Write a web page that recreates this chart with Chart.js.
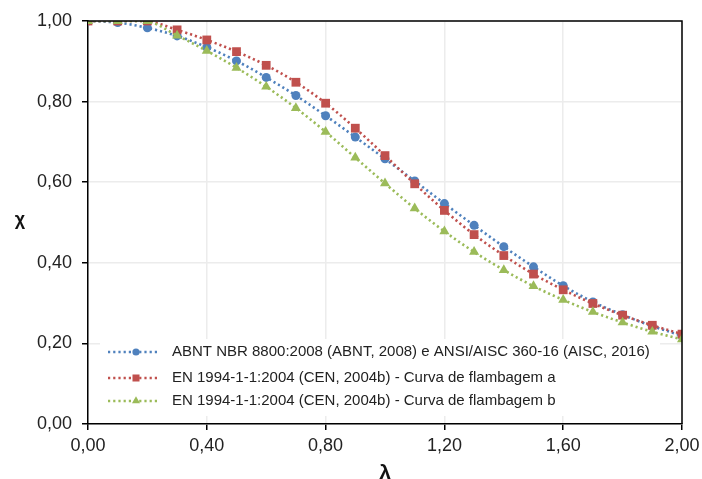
<!DOCTYPE html>
<html>
<head>
<meta charset="utf-8">
<script src="https://cdn.jsdelivr.net/npm/chart.js@4.4.1/dist/chart.umd.min.js"></script>
<style>
html,body{margin:0;padding:0;background:#fff;}
#wrap{width:702px;height:479px;position:relative;}
</style>
</head>
<body>
<div id="wrap"><canvas id="c" width="702" height="479"></canvas></div>
<script>
const lambdaValues = [0.0,0.1,0.2,0.3,0.4,0.5,0.6,0.7,0.8,0.9,1.0,1.1,1.2,1.3,1.4,1.5,1.6,1.7,1.8,1.9,2.0];
const abntValues   = [1.000,0.996,0.983,0.963,0.935,0.901,0.860,0.815,0.765,0.712,0.658,0.603,0.547,0.493,0.440,0.390,0.343,0.303,0.271,0.243,0.219];
const enCurveA     = [1.000,1.000,1.000,0.978,0.953,0.924,0.890,0.848,0.796,0.734,0.666,0.596,0.530,0.470,0.418,0.372,0.333,0.299,0.270,0.245,0.223];
const enCurveB     = [1.000,1.000,1.000,0.964,0.926,0.884,0.837,0.784,0.725,0.661,0.597,0.535,0.478,0.427,0.382,0.342,0.308,0.278,0.252,0.229,0.210];
const seriesNames  = [
  "ABNT NBR 8800:2008 (ABNT, 2008) e ANSI/AISC 360-16 (AISC, 2016)",
  "EN 1994-1-1:2004 (CEN, 2004b) - Curva de flambagem a",
  "EN 1994-1-1:2004 (CEN, 2004b) - Curva de flambagem b"
];
const xTitle = "λ";
const yTitle = "χ";

const BLUE = "#4F81BD", RED = "#C0504D", GREEN = "#9BBB59";
const DASH = [2.2, 3.0];

function pts(ys){ return lambdaValues.map((x,i)=>({x:x, y:ys[i]})); }
function fmt(v){ return Number(v).toFixed(2).replace('.', ','); }

const datasets = [
  {label: seriesNames[0], data: pts(abntValues), borderColor: BLUE, backgroundColor: BLUE,
   pointStyle: 'circle', pointRadius: 4.5, order: 2},
  {label: seriesNames[1], data: pts(enCurveA), borderColor: RED, backgroundColor: RED,
   pointStyle: 'rect', pointRadius: 6.2, order: 1},
  {label: seriesNames[2], data: pts(enCurveB), borderColor: GREEN, backgroundColor: GREEN,
   pointStyle: 'triangle', pointRadius: 5.8, order: 0}
].map(d => Object.assign({
  borderWidth: 2.6, borderDash: DASH, borderCapStyle: 'butt', tension: 0.35,
  pointBorderWidth: 0, pointHoverRadius: 0, fill: false
}, d));

const extrasPlugin = {
  id: 'extras',
  afterDraw(chart){
    const ctx = chart.ctx, a = chart.chartArea;
    ctx.save();
    // frame (top & right)
    ctx.strokeStyle = '#000'; ctx.lineWidth = 1.5;
    ctx.beginPath();
    ctx.moveTo(a.left, a.top); ctx.lineTo(a.right, a.top); ctx.lineTo(a.right, a.bottom);
    ctx.stroke();
    // legend
    ctx.fillStyle = '#fff';
    ctx.fillRect(100, 339, 560, 77);
    const rows = [352, 378, 401];
    chart.data.datasets.forEach((ds, i) => {
      const y = rows[i];
      ctx.save();
      ctx.strokeStyle = ds.borderColor; ctx.lineWidth = ds.borderWidth;
      ctx.setLineDash(DASH);
      ctx.beginPath(); ctx.moveTo(108, y); ctx.lineTo(160, y); ctx.stroke();
      ctx.restore();
      const r = ds.pointRadius * 0.8;
      ctx.fillStyle = ds.backgroundColor;
      ctx.strokeStyle = ds.backgroundColor;
      Chart.helpers.drawPoint(ctx, {pointStyle: ds.pointStyle, radius: r, rotation: 0, borderWidth: 0}, 136, y);
      ctx.fillStyle = '#222';
      ctx.font = '15px "Liberation Sans", Arial, sans-serif';
      ctx.textAlign = 'left'; ctx.textBaseline = 'middle';
      ctx.fillText(ds.label, 172, y);
    });
    // axis titles
    ctx.fillStyle = '#111';
    ctx.font = 'bold 18px "Liberation Sans", Arial, sans-serif';
    ctx.textAlign = 'center'; ctx.textBaseline = 'middle';
    ctx.fillText(yTitle, 20, 220);
    ctx.font = 'bold 21px "Liberation Sans", Arial, sans-serif';
    ctx.textBaseline = 'alphabetic';
    ctx.fillText(xTitle, (a.left + a.right) / 2, 479);
    ctx.restore();
  }
};

new Chart(document.getElementById('c'), {
  type: 'line',
  data: { datasets },
  options: {
    responsive: false,
    animation: false,
    layout: { padding: { left: 0, top: 21, right: 20, bottom: 0 } },
    plugins: { legend: { display: false }, tooltip: { enabled: false } },
    scales: {
      x: {
        type: 'linear', min: 0, max: 2,
        ticks: { stepSize: 0.4, padding: 5, color: '#222',
                 font: { family: '"Liberation Sans", Arial, sans-serif', size: 18 },
                 callback: v => fmt(v) },
        grid: { color: '#ececec', lineWidth: 1.5, tickLength: 6, tickColor: '#000', tickWidth: 1.5 },
        border: { color: '#000', width: 1.5 },
        afterFit(s){ s.height = 55; s.paddingLeft = 0; s.paddingRight = 0; }
      },
      y: {
        min: 0, max: 1,
        ticks: { stepSize: 0.2, padding: 10, color: '#222',
                 font: { family: '"Liberation Sans", Arial, sans-serif', size: 18 },
                 callback: v => fmt(v) },
        grid: { color: '#ececec', lineWidth: 1.5, tickLength: 6, tickColor: '#000', tickWidth: 1.5 },
        border: { color: '#000', width: 1.5 },
        afterFit(s){ s.width = 88; s.paddingTop = 0; s.paddingBottom = 0; }
      }
    }
  },
  plugins: [extrasPlugin]
});
</script>
</body>
</html>
